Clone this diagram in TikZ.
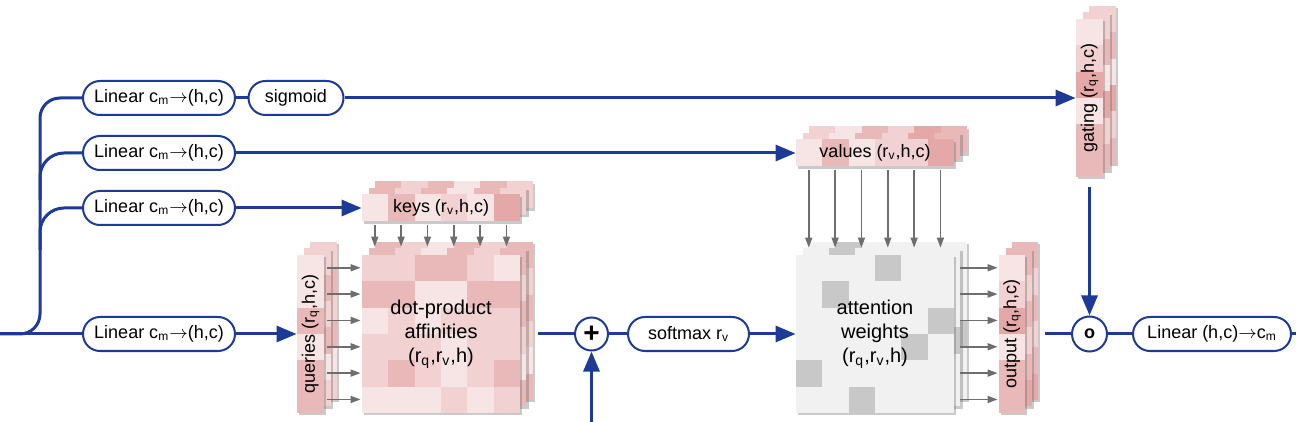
\documentclass[tikz,border=0pt]{standalone}
\usepackage{fontspec}
\setmainfont{Liberation Sans}
\usepackage{graphicx}
\usetikzlibrary{arrows.meta,shadows}

\definecolor{linkblue}{RGB}{28,58,150}
\definecolor{arrowgray}{RGB}{110,110,110}
\definecolor{pk}{RGB}{210,110,110}
\colorlet{p1}{pk!18}
\colorlet{p2}{pk!32}
\colorlet{p3}{pk!48}
\colorlet{p4}{pk!60}
\definecolor{g1}{RGB}{241,241,241}
\definecolor{g2}{RGB}{200,200,200}

\newcommand{\ra}{\ensuremath{\rightarrow}}

% one layer of a tensor: x, y, cols, rows, cell width, cell height, cell colours
\newcommand{\tensorlayer}[7]{%
  \fill[white, drop shadow={shadow xshift=1.2pt, shadow yshift=-1.2pt, opacity=0.35, fill=black!60}] (#1,#2) rectangle ++({#3*#5},{#4*#6});
  \foreach \clr [count=\i from 0] in {#7} {
    \pgfmathtruncatemacro{\col}{mod(\i,#3)}
    \pgfmathtruncatemacro{\row}{floor(\i/#3)}
    \fill[\clr] ({#1+\col*#5},{#2+\row*#6}) rectangle ++(#5,#6);
  }
}
% three layers, front colours and back colours
\newcommand{\tensorstack}[8]{%
  \tensorlayer{#1+13}{#2-13}{#3}{#4}{#5}{#6}{#8}
  \tensorlayer{#1+6.5}{#2-6.5}{#3}{#4}{#5}{#6}{#8}
  \tensorlayer{#1}{#2}{#3}{#4}{#5}{#6}{#7}
}

\begin{document}
\begin{tikzpicture}[x=0.5pt, y=-0.5pt]
    \tikzstyle{blueline} = [draw=linkblue, line width=1.5pt]
    \tikzstyle{bluearrow} = [blueline, -{Triangle[length=10pt, width=8pt]}]
    \tikzstyle{grayarrow} = [draw=arrowgray, line width=0.75pt, -{Triangle[length=5pt, width=3.5pt]}]
    \tikzstyle{opbox} = [shape=rectangle, draw=linkblue, line width=1pt, fill=white, rounded corners=8.5pt, minimum height=17pt, inner xsep=2pt, font=\fontsize{9}{11}\selectfont]
    \tikzstyle{opcircle} = [shape=circle, draw=linkblue, line width=1pt, fill=white, minimum size=16.5pt, inner sep=0pt]
    \tikzstyle{tensorlabel} = [inner sep=0pt, align=center, font=\fontsize{9}{11}\selectfont]
    \tikzstyle{biglabel} = [tensorlabel, minimum width=79pt, minimum height=79pt, font=\fontsize{10}{12}\selectfont]

    \useasboundingbox (0,0) rectangle (1296,422);

    % tensors
    \tensorstack{362}{194.5}{6}{1}{26.33}{27}{p1,p3,p1,p2,p1,p4}{p3,p2,p3,p1,p3,p2}
    \tensorstack{796}{139.5}{6}{1}{26.33}{27}{p1,p3,p1,p2,p2,p4}{p2,p1,p3,p2,p4,p3}
    \tensorstack{297}{255}{1}{6}{27}{26.33}{p1,p1,p3,p1,p3,p3}{p2,p3,p2,p3,p1,p2}
    \tensorstack{999}{255}{1}{6}{26}{26.33}{p1,p2,p4,p1,p3,p3}{p3,p2,p3,p2,p3,p4}
    \tensorstack{1076}{19}{1}{6}{27}{26.33}{p1,p2,p4,p1,p3,p3}{p2,p3,p1,p4,p2,p3}
    \tensorstack{362}{255}{6}{6}{26.33}{26.33}
        {p2,p2,p3,p3,p2,p1, p3,p3,p1,p1,p3,p3, p1,p2,p1,p2,p2,p2, p2,p2,p2,p1,p2,p2, p2,p3,p2,p1,p2,p3, p1,p1,p1,p2,p1,p2}
        {p3,p2,p1,p3,p2,p3, p2,p1,p3,p2,p3,p2, p1,p3,p2,p1,p2,p3, p3,p2,p2,p3,p1,p2, p2,p1,p3,p2,p3,p1, p1,p2,p2,p1,p2,p3}
    \tensorstack{796}{255}{6}{6}{26.33}{26.33}
        {g1,g1,g1,g2,g1,g1, g1,g2,g1,g1,g1,g1, g1,g1,g1,g1,g1,g2, g1,g1,g1,g1,g2,g1, g2,g1,g1,g1,g1,g1, g1,g1,g2,g1,g1,g1}
        {g1,g2,g1,g1,g1,g1, g1,g1,g1,g1,g2,g1, g2,g1,g1,g1,g1,g1, g1,g1,g1,g1,g1,g2, g1,g1,g2,g1,g1,g1, g1,g1,g1,g2,g1,g1}

    \node[tensorlabel, minimum width=79pt, minimum height=13.5pt] (keys) at (441,208) {keys (r\textsubscript{v},h,c)};
    \node[tensorlabel, minimum width=79pt, minimum height=13.5pt] (values) at (875,153) {values (r\textsubscript{v},h,c)};
    \node[tensorlabel, minimum width=13.5pt, minimum height=79pt] (queries) at (310.5,334) {\rotatebox{90}{queries (r\textsubscript{q},h,c)}};
    \node[tensorlabel, minimum width=13pt, minimum height=79pt] (output) at (1012,334) {\rotatebox{90}{output (r\textsubscript{q},h,c)}};
    \node[tensorlabel, minimum width=13.5pt, minimum height=79pt] (gating) at (1089.5,98) {\rotatebox{90}{gating (r\textsubscript{q},h,c)}};
    \node[biglabel] (dot) at (441,334) {dot-product\\affinities\\(r\textsubscript{q},r\textsubscript{v},h)};
    \node[biglabel] (att) at (875,334) {attention\\weights\\(r\textsubscript{q},r\textsubscript{v},h)};

    % gray arrows between tensors
    \foreach \i [evaluate=\i as \d using 6.58+13.17*\i] in {0,...,5} {
        \draw[grayarrow] ([xshift=\d pt, yshift=-1.5pt]keys.south west) -- ([xshift=\d pt, yshift=4pt]dot.north west);
        \draw[grayarrow] ([xshift=1.5pt, yshift=-\d pt]queries.north east) -- ([xshift=-0.5pt, yshift=-\d pt]dot.north west);
        \draw[grayarrow] ([xshift=\d pt, yshift=-1.5pt]values.south west) -- ([xshift=\d pt, yshift=3.5pt]att.north west);
        \draw[grayarrow] ([xshift=3pt, yshift=-\d pt]att.north east) -- ([xshift=-0.5pt, yshift=-\d pt]output.north west);
    }

    % operations
    \node[opbox, minimum width=76pt] (lin1) at (159,98) {Linear c\textsubscript{m}\ra(h,c)};
    \node[opbox, minimum width=47.5pt] (sigmoid) at (296,98) {sigmoid};
    \node[opbox, minimum width=76pt] (lin2) at (159,153) {Linear c\textsubscript{m}\ra(h,c)};
    \node[opbox, minimum width=76pt] (lin3) at (159,208) {Linear c\textsubscript{m}\ra(h,c)};
    \node[opbox, minimum width=76pt] (lin4) at (159,334) {Linear c\textsubscript{m}\ra(h,c)};
    \node[opcircle] (plus) at (591.5,334) {\fontsize{14}{14}\selectfont\bfseries +};
    \node[opbox, minimum width=60.5pt] (softmax) at (688.5,334) {softmax r\textsubscript{v}};
    \node[opcircle, minimum size=17.5pt] (circ) at (1089.5,334) {\fontsize{9}{9}\selectfont\bfseries o};
    \node[opbox, minimum width=79pt] (final) at (1212,334) {Linear (h,c)\ra c\textsubscript{m}};

    \coordinate (in) at (0,334);
    \coordinate (bias) at (591.5,422);
    \coordinate (out) at (1296,334);

    % blue connectors
    \draw[blueline] (in) -- (lin4);
    \draw[blueline, rounded corners=10pt] (in) -| (40,200) |- (lin1);
    \draw[blueline, rounded corners=12pt] (40,200) |- (lin2);
    \draw[blueline, rounded corners=12pt] (40,250) |- (lin3);
    \draw[blueline] (lin1) -- (sigmoid);
    \draw[bluearrow] (sigmoid) -- (gating);
    \draw[bluearrow] (lin2) -- (values);
    \draw[bluearrow] (lin3) -- (keys);
    \draw[bluearrow] (lin4) -- (queries);
    \draw[blueline] ([xshift=9pt]dot.east) -- (plus);
    \draw[blueline] (plus) -- (softmax);
    \draw[bluearrow] (softmax) -- (att);
    \draw[bluearrow] (bias) -- (plus);
    \draw[bluearrow] ([yshift=-5pt]gating.south) -- (circ);
    \draw[blueline] ([xshift=10pt]output.east) -- (circ);
    \draw[blueline] (circ) -- (final);
    \draw[blueline] (final) -- (out);
\end{tikzpicture}
\end{document}
